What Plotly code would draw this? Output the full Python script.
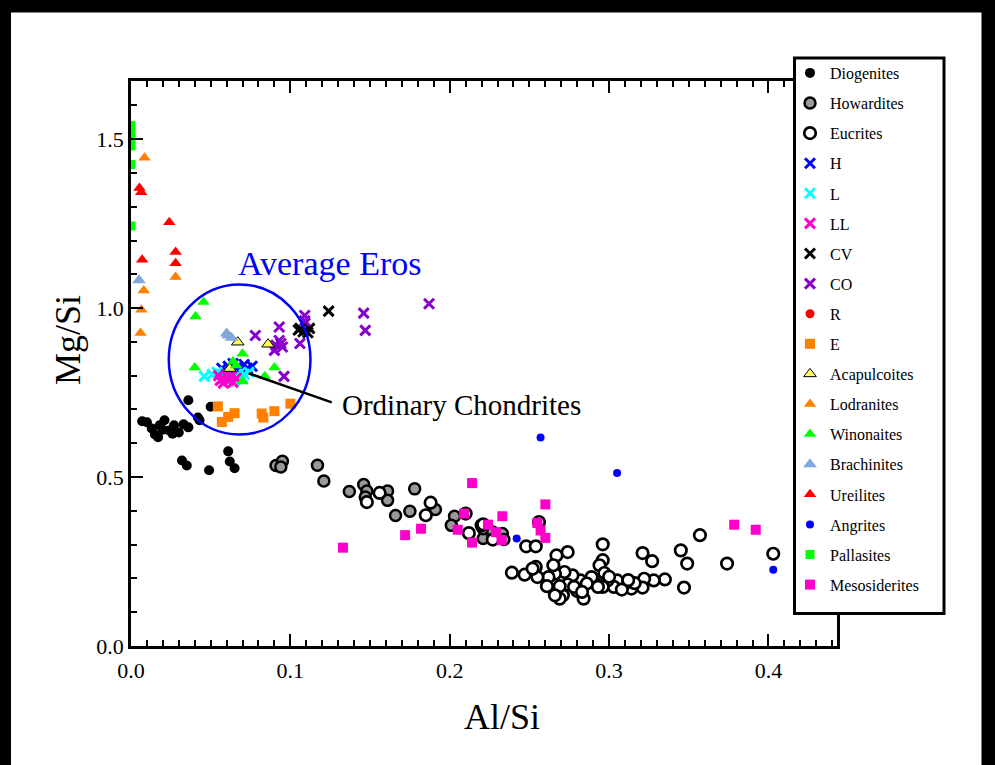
import plotly.graph_objects as go

# ---------------- data ----------------
diog_x = [0.007, 0.010, 0.013, 0.015, 0.017, 0.018, 0.021, 0.024, 0.027, 0.030, 0.033, 0.036,
          0.026, 0.020, 0.036, 0.042, 0.043, 0.050, 0.032, 0.035, 0.049, 0.061, 0.062, 0.065]
diog_y = [0.665, 0.662, 0.644, 0.626, 0.618, 0.653, 0.668, 0.638, 0.653, 0.632, 0.656, 0.647,
          0.628, 0.640, 0.727, 0.676, 0.668, 0.708, 0.549, 0.534, 0.520, 0.576, 0.546, 0.526]

how_x = [0.091, 0.095, 0.094, 0.117, 0.121, 0.137, 0.146, 0.148, 0.147, 0.161, 0.161, 0.178,
         0.166, 0.175, 0.191, 0.203, 0.201, 0.221, 0.221, 0.227, 0.233, 0.234]
how_y = [0.534, 0.547, 0.530, 0.535, 0.488, 0.457, 0.478, 0.459, 0.441, 0.459, 0.431, 0.465,
         0.386, 0.399, 0.404, 0.384, 0.357, 0.318, 0.347, 0.337, 0.333, 0.315]

euc_x = [0.156, 0.148, 0.188, 0.185, 0.210, 0.212, 0.220, 0.227, 0.221, 0.239, 0.248, 0.254,
         0.256, 0.247, 0.254, 0.267, 0.274, 0.296, 0.296, 0.294, 0.321, 0.327, 0.345, 0.349,
         0.357, 0.347, 0.374, 0.403, 0.335, 0.328, 0.322, 0.321, 0.314, 0.309, 0.305, 0.303,
         0.299, 0.297, 0.296, 0.291, 0.289, 0.284, 0.282, 0.280, 0.277, 0.274, 0.272, 0.271,
         0.269, 0.269, 0.266, 0.266, 0.265, 0.262, 0.261, 0.255, 0.252, 0.286, 0.293, 0.308,
         0.316, 0.278, 0.283, 0.312, 0.300]
euc_y = [0.453, 0.426, 0.424, 0.387, 0.392, 0.334, 0.357, 0.315, 0.360, 0.217, 0.295, 0.295,
         0.367, 0.211, 0.234, 0.268, 0.278, 0.301, 0.254, 0.239, 0.275, 0.251, 0.283, 0.244,
         0.328, 0.173, 0.244, 0.273, 0.197, 0.194, 0.199, 0.173, 0.170, 0.180, 0.194, 0.175,
         0.194, 0.216, 0.175, 0.186, 0.204, 0.140, 0.194, 0.163, 0.209, 0.182, 0.219, 0.150,
         0.140, 0.177, 0.150, 0.214, 0.239, 0.204, 0.177, 0.204, 0.229, 0.185, 0.175, 0.167,
         0.186, 0.175, 0.160, 0.195, 0.205]

h_x = [0.057, 0.061, 0.064, 0.068, 0.071, 0.073, 0.076, 0.060, 0.066]
h_y = [0.822, 0.828, 0.836, 0.816, 0.833, 0.822, 0.828, 0.810, 0.822]

l_x = [0.046, 0.051, 0.054, 0.059, 0.063, 0.067, 0.071, 0.074, 0.065, 0.070]
l_y = [0.798, 0.804, 0.810, 0.792, 0.798, 0.804, 0.804, 0.810, 0.786, 0.792]

ll_x = [0.055, 0.058, 0.061, 0.063, 0.066, 0.060, 0.056, 0.064, 0.058]
ll_y = [0.800, 0.792, 0.786, 0.798, 0.792, 0.804, 0.786, 0.780, 0.778]

cv_x = [0.124, 0.106, 0.109, 0.111, 0.108, 0.112, 0.105]
cv_y = [0.991, 0.940, 0.955, 0.927, 0.930, 0.940, 0.935]

co_x = [0.109, 0.093, 0.078, 0.093, 0.091, 0.095, 0.090, 0.094, 0.106, 0.096, 0.146, 0.147, 0.187, 0.109]
co_y = [0.978, 0.944, 0.919, 0.904, 0.890, 0.885, 0.875, 0.895, 0.895, 0.798, 0.985, 0.934, 1.013, 0.962]

# no R point is visible in the reference; keep a placeholder so the legend entry stays
r_x = [None]
r_y = [None]

e_x = [0.0545, 0.065, 0.061, 0.057, 0.082, 0.083, 0.090, 0.100]
e_y = [0.709, 0.689, 0.678, 0.663, 0.688, 0.676, 0.695, 0.717]

aca_x = [0.067, 0.086, 0.062]
aca_y = [0.899, 0.893, 0.821]

lod_x = [0.0085, 0.028, 0.008, 0.0065, 0.006]
lod_y = [1.445, 1.092, 1.052, 0.995, 0.926]

win_x = [0.0455, 0.0405, 0.070, 0.040, 0.064, 0.090, 0.070, 0.084, 0.066]
win_y = [1.018, 0.975, 0.865, 0.824, 0.842, 0.824, 0.783, 0.798, 0.830]

bra_x = [0.005, 0.061, 0.063, 0.060]
bra_y = [1.082, 0.919, 0.912, 0.925]

ure_x = [0.0053, 0.0064, 0.024, 0.028, 0.028, 0.007]
ure_y = [1.355, 1.343, 1.254, 1.166, 1.133, 1.143]

ang_x = [0.257, 0.305, 0.242, 0.403]
ang_y = [0.617, 0.512, 0.318, 0.226]

pal_x = [0.0, 0.0, 0.0, 0.0, 0.0, 0.0]
pal_y = [1.540, 1.520, 1.500, 1.480, 1.425, 1.243]

mes_x = [0.133, 0.172, 0.182, 0.214, 0.209, 0.205, 0.214, 0.224, 0.233, 0.229, 0.2325, 0.260,
         0.255, 0.257, 0.260, 0.3785, 0.392]
mes_y = [0.291, 0.328, 0.347, 0.482, 0.392, 0.344, 0.306, 0.359, 0.384, 0.337, 0.313, 0.419,
         0.364, 0.342, 0.320, 0.359, 0.344]

x_ticks = [0.0, 0.1, 0.2, 0.3, 0.4]
y_ticks = [0.0, 0.5, 1.0, 1.5]

# Average Eros circle and Ordinary Chondrites pointer (data units)
eros_box = [0.0237, 0.1126, 0.626, 1.070]
oc_line = [0.0738, 0.807, 0.126, 0.721]
eros_label = [0.1247, 1.132]
oc_label = [0.131, 0.712]

# ---------------- styling ----------------
W, H = 995, 765
ML, MR, MT, MB = 131, 158, 81, 119
PW, PH = W - ML - MR, H - MT - MB
FONT = "Liberation Serif"


def pxx(px):
    return (px - ML) / PW


def pxy(py):
    return (H - MB - py) / PH


series = [
    ("Diogenites", diog_x, diog_y, dict(symbol="circle", size=10, color="black")),
    ("Howardites", how_x, how_y, dict(symbol="circle", size=11, color="#999999",
                                        line=dict(color="black", width=2.5))),
    ("Eucrites", euc_x, euc_y, dict(symbol="circle", size=11.5, color="white",
                                    line=dict(color="black", width=2.7))),
    ("H", h_x, h_y, dict(symbol="x-thin", size=10, line=dict(color="#0000ff", width=3))),
    ("L", l_x, l_y, dict(symbol="x-thin", size=10, line=dict(color="#00ffff", width=3))),
    ("LL", ll_x, ll_y, dict(symbol="x-thin", size=10, line=dict(color="#ff00cc", width=3))),
    ("CV", cv_x, cv_y, dict(symbol="x-thin", size=10, line=dict(color="black", width=3))),
    ("CO", co_x, co_y, dict(symbol="x-thin", size=10, line=dict(color="#8800cc", width=3))),
    ("R", r_x, r_y, dict(symbol="circle", size=9, color="#ff0000")),
    ("E", e_x, e_y, dict(symbol="square", size=10, color="#ff8000")),
    ("Acapulcoites", aca_x, aca_y, dict(symbol="triangle-up", size=11, color="#ffff55",
                                         line=dict(color="black", width=1))),
    ("Lodranites", lod_x, lod_y, dict(symbol="triangle-up", size=11, color="#ff8000")),
    ("Winonaites", win_x, win_y, dict(symbol="triangle-up", size=11, color="#00ff00")),
    ("Brachinites", bra_x, bra_y, dict(symbol="triangle-up", size=12, color="#80a8d8")),
    ("Ureilites", ure_x, ure_y, dict(symbol="triangle-up", size=11, color="#ff0000")),
    ("Angrites", ang_x, ang_y, dict(symbol="circle", size=8, color="#0000ff")),
    ("Pallasites", pal_x, pal_y, dict(symbol="square", size=9, color="#00ff00")),
    ("Mesosiderites", mes_x, mes_y, dict(symbol="square", size=10, color="#ff00cc")),
]

fig = go.Figure()
for name, xs, ys, mk in series:
    fig.add_trace(go.Scatter(x=xs, y=ys, mode="markers", name=name, legendgroup=name,
                             marker=mk))

axis_common = dict(
    showline=True, linewidth=2.5, linecolor="black", mirror="ticks",
    ticks="inside", ticklen=12, tickwidth=2, tickcolor="black",
    showgrid=False, zeroline=False,
    tickfont=dict(family=FONT, size=22, color="black"),
)

fig.update_xaxes(range=[0, 0.443], tickvals=x_ticks, tickformat=".1f",
                 minor=dict(dtick=0.01, ticks="inside", ticklen=6, tickwidth=2, tickcolor="black"),
                 ticklabelstandoff=3,
                 **axis_common)
fig.update_yaxes(range=[0, 1.672], tickvals=y_ticks, tickformat=".1f",
                 minor=dict(dtick=0.1, ticks="inside", ticklen=6, tickwidth=2, tickcolor="black"),
                 ticklabelstandoff=0,
                 **axis_common)

shapes = [
    dict(type="circle", xref="x", yref="y", x0=eros_box[0], x1=eros_box[1],
         y0=eros_box[2], y1=eros_box[3], line=dict(color="#0000ff", width=2.5)),
    dict(type="line", xref="x", yref="y", x0=oc_line[0], y0=oc_line[1],
         x1=oc_line[2], y1=oc_line[3], line=dict(color="black", width=2.5)),
    # legend box
    dict(type="rect", xref="paper", yref="paper", x0=pxx(794.5), x1=pxx(944), y0=pxy(613.5),
         y1=pxy(58), line=dict(color="black", width=3), fillcolor="white", layer="above"),
    # black frame bands of the original picture
    dict(type="rect", xref="paper", yref="paper", x0=pxx(-5), x1=pxx(W + 5), y0=pxy(12.5),
         y1=pxy(-5), line=dict(width=0), fillcolor="black", layer="above"),
    dict(type="rect", xref="paper", yref="paper", x0=pxx(-5), x1=pxx(11), y0=pxy(H + 5),
         y1=pxy(-5), line=dict(width=0), fillcolor="black", layer="above"),
    dict(type="rect", xref="paper", yref="paper", x0=pxx(981.5), x1=pxx(W + 5), y0=pxy(H + 5),
         y1=pxy(-5), line=dict(width=0), fillcolor="black", layer="above"),
]

annotations = [
    dict(text="Average Eros", x=eros_label[0], y=eros_label[1], xref="x", yref="y",
         showarrow=False, font=dict(family=FONT, size=34, color="#0000ff")),
    dict(text="Ordinary Chondrites", x=oc_label[0], y=oc_label[1], xref="x", yref="y",
         xanchor="left", showarrow=False, font=dict(family=FONT, size=29, color="black")),
    # axis titles
    dict(text="Al/Si", x=pxx(502), y=pxy(717), xref="paper", yref="paper",
         xanchor="center", yanchor="middle", showarrow=False,
         font=dict(family=FONT, size=36, color="black")),
    dict(text="Mg/Si", x=pxx(68), y=pxy(340), xref="paper", yref="paper", textangle=-90,
         xanchor="center", yanchor="middle", showarrow=False,
         font=dict(family=FONT, size=36, color="black")),
]

fig.update_layout(
    width=W, height=H,
    margin=dict(l=ML, r=MR, t=MT, b=MB, autoexpand=False),
    paper_bgcolor="white", plot_bgcolor="white",
    shapes=shapes, annotations=annotations,
    showlegend=True,
    legend=dict(x=pxx(790), y=pxy(602), xanchor="left", yanchor="bottom",
                bgcolor="rgba(0,0,0,0)", borderwidth=0, tracegroupgap=6.3,
                font=dict(family=FONT, size=16, color="black")),
)

fig.write_html("out.html", config={"displayModeBar": False},
               post_script="document.body.style.margin='0px';")
